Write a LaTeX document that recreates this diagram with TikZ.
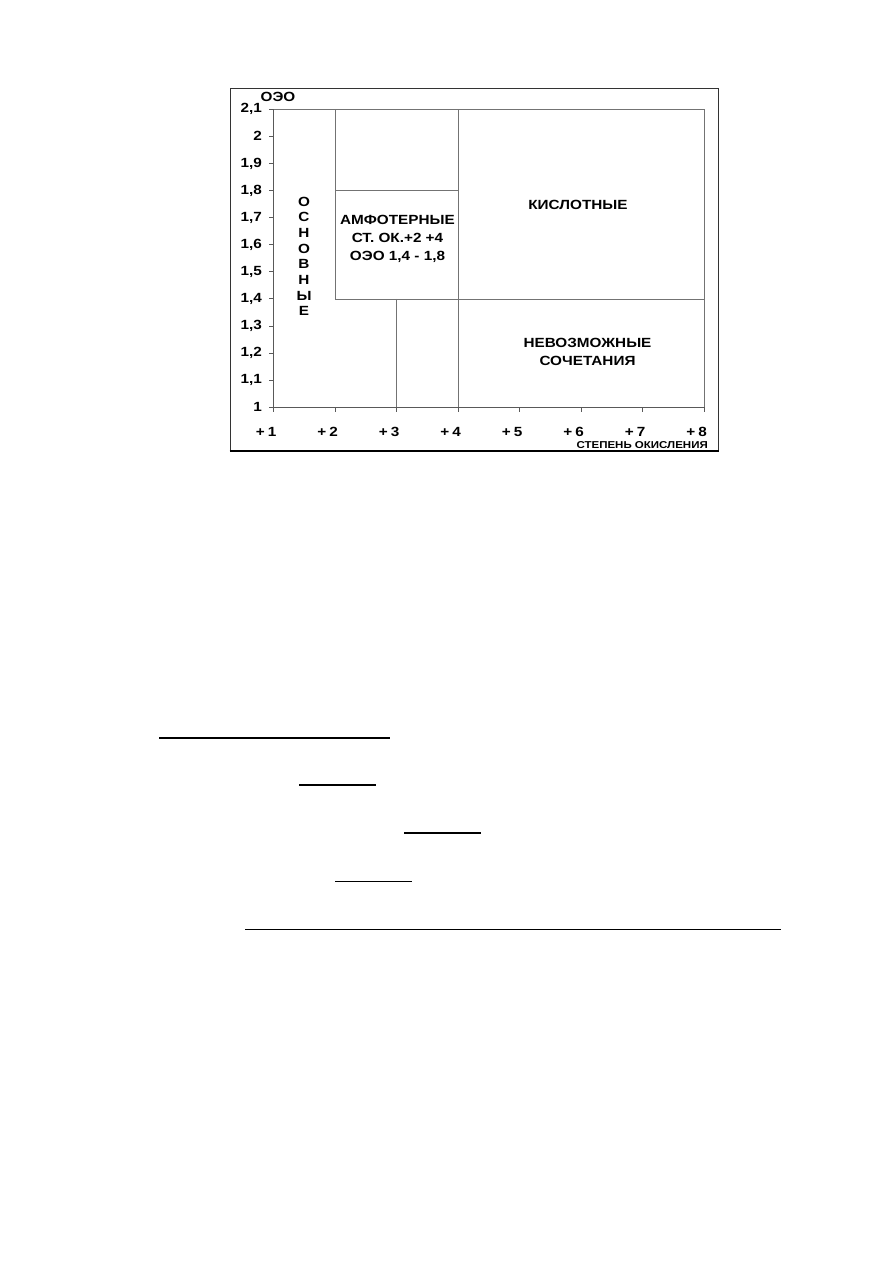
\documentclass[tikz,border=0pt]{standalone}
\usepackage{fontspec}
\setmainfont{Liberation Sans}
\newfontfamily\cf[FakeStretch=1.15]{Liberation Sans}
\begin{document}
\begin{tikzpicture}[x=1pt,y=-1pt,
  lbl/.style={inner sep=0pt,font=\cf\bfseries\fontsize{13.3}{18}\selectfont},
  small/.style={inner sep=0pt,font=\cf\bfseries\fontsize{10}{10}\selectfont},
  axisline/.style={draw=black!65,line width=0.9pt},
  gridline/.style={draw=black!55,line width=0.8pt},
  rule/.style={draw=black,line width=1.7pt}]
\useasboundingbox (0,0) rectangle (893,1263);
% frame
\draw[black!80,line width=1pt] (230,451) -- (230,88) -- (718,88) -- (718,451);
\draw[black,line width=1.6pt] (229.5,451) -- (718.5,451);
\begin{scope}[shift={(273.5,407.3)},x=61.5pt,y=271pt]
  \coordinate (O) at (0,0);
  \draw[gridline] (0,1.1) -- (7,1.1) -- (7,0);
  \draw[gridline] (1,1.1) -- (1,0.4) -- (7,0.4);
  \draw[gridline] (1,0.8) -- (3,0.8);
  \draw[gridline] (3,1.1) -- (3,0);
  \draw[gridline] (2,0.4) -- (2,0);
  \draw[axisline] (0,1.1) -- (O) -- (7,0);
  \foreach \v/\t [count=\i] in {0/1,0.1/{1,1},0.2/{1,2},0.3/{1,3},0.4/{1,4},0.5/{1,5},0.6/{1,6},0.7/{1,7},0.8/{1,8},0.9/{1,9},1.0/2,1.1/{2,1}}{
    \draw[axisline] (0,\v) -- ++(-5pt,0);
    \node[lbl,anchor=east] (y\i) at ([xshift=-11.5pt]0,\v) {\t};
  }
  \foreach \k in {1,...,8}{
    \draw[axisline] (\k-1,0) -- ++(0,-5pt);
    \node[lbl,anchor=east] (x\k) at ([xshift=3pt,yshift=-24.5pt]\k-1,0) {+\hspace{0.22em}\k};
  }
\end{scope}
\node[lbl] (oeo) at (278,97) {ОЭО};
\foreach \c [count=\i] in {О,С,Н,О,В,Н,Ы,Е}{
  \node[lbl] (v\i) at (304,{201.5+(\i-1)*15.7}) {\c};
}
\node[lbl,align=center] (amf) at (397.5,239.3) {АМФОТЕРНЫЕ\\СТ. ОК.+2 +4\\ОЭО 1,4 - 1,8};
\node[lbl] (kisl) at (578,205) {КИСЛОТНЫЕ};
\node[lbl,align=center] (nev) at (587.5,351.5) {НЕВОЗМОЖНЫЕ\\СОЧЕТАНИЯ};
\node[small,anchor=east] (axt) at (708,445) {СТЕПЕНЬ ОКИСЛЕНИЯ};
% underlines
\draw[rule,line width=2.4pt] (159,737.7) -- (389.5,737.7);
\draw[rule] (299,785.3) -- (375.7,785.3);
\draw[rule] (404,833.3) -- (481,833.3);
\draw[rule] (335,881.5) -- (411.5,881.5);
\draw[rule] (245,929.5) -- (781,929.5);
\end{tikzpicture}
\end{document}
